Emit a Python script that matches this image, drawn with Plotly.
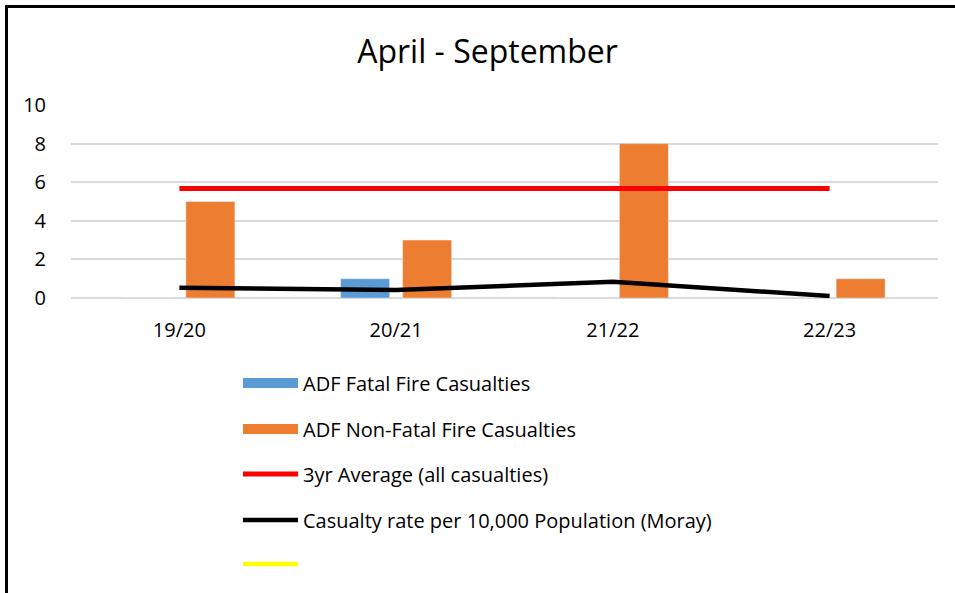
import plotly.graph_objects as go

categories = ["19/20", "20/21", "21/22", "22/23"]
fatal = [0, 1, 0, 0]
non_fatal = [5, 3, 8, 1]
avg_3yr = [5.67, 5.67, 5.67, 5.67]
rate_moray = [0.53, 0.42, 0.84, 0.105]
blank_series = [None, None, None, None]
y_ticks = [0, 2, 4, 6, 8, 10]

FONT = "Open Sans"
BLUE = "#5B9BD5"
ORANGE = "#ED7D31"
W, H = 955, 593

fig = go.Figure()
fig.add_trace(go.Bar(x=categories, y=fatal, name="ADF Fatal Fire Casualties",
                     marker=dict(color=BLUE), showlegend=False))
fig.add_trace(go.Bar(x=categories, y=non_fatal, name="ADF Non-Fatal Fire Casualties",
                     marker=dict(color=ORANGE), showlegend=False))
# legend keys for the bar series (rectangular swatches like the original)
fig.add_trace(go.Scatter(x=categories, y=blank_series, name="ADF Fatal Fire Casualties",
                         mode="lines", line=dict(color=BLUE, width=11), legend="legend"))
fig.add_trace(go.Scatter(x=categories, y=blank_series, name="ADF Non-Fatal Fire Casualties",
                         mode="lines", line=dict(color=ORANGE, width=11), legend="legend2"))
fig.add_trace(go.Scatter(x=categories, y=avg_3yr, name="3yr Average (all casualties)",
                         mode="lines", line=dict(color="#FF0000", width=5), legend="legend3"))
fig.add_trace(go.Scatter(x=categories, y=rate_moray, name="Casualty rate per 10,000 Population (Moray)",
                         mode="lines", line=dict(color="#000000", width=4.5), legend="legend4"))
fig.add_trace(go.Scatter(x=categories, y=blank_series, name=" ",
                         mode="lines", line=dict(color="#FFFF00", width=4.5), legend="legend5"))

PLOT_BOTTOM, PLOT_H, PLOT_L, PLOT_W = 299, 194, 71, 867


def legend_at(center_px):
    return dict(orientation="v", x=(238 - PLOT_L) / PLOT_W, xanchor="left",
                y=(PLOT_BOTTOM - center_px) / PLOT_H, yanchor="middle",
                font=dict(family=FONT, size=20), itemwidth=55,
                bgcolor="rgba(0,0,0,0)")


fig.update_layout(
    width=W, height=H,
    margin=dict(l=71, r=17, t=105, b=294),
    paper_bgcolor="white", plot_bgcolor="white",
    font=dict(family=FONT, size=20, color="#000000"),
    title=dict(text="April - September", x=487.5 / W, xanchor="center", y=1 - 52 / H, yanchor="middle",
               font=dict(family=FONT, size=32, color="#000000")),
    barmode="group", bargap=0.428, bargroupgap=0.21,
    showlegend=True,
    legend=legend_at(383),
    legend2=legend_at(429),
    legend3=legend_at(474),
    legend4=legend_at(520),
    legend5=legend_at(564),
    xaxis=dict(type="category", showgrid=False, showline=False, zeroline=False,
               ticks="outside", ticklen=14, tickcolor="rgba(0,0,0,0)",
               tickfont=dict(family=FONT, size=20)),
    yaxis=dict(range=[0, 10], tickvals=y_ticks, showgrid=True, gridcolor="#D9D9D9", gridwidth=1.5,
               zeroline=True, zerolinecolor="#D9D9D9", zerolinewidth=1.5, showline=False,
               ticks="outside", ticklen=20, tickcolor="rgba(0,0,0,0)",
               tickfont=dict(family=FONT, size=20)),
)

# chart border (top and left edges visible)
fig.add_shape(type="line", xref="paper", yref="paper",
              x0=(5 - 71) / 867, x1=(955 - 71) / 867, y0=(299 - 6) / 194, y1=(299 - 6) / 194,
              line=dict(color="#000000", width=3))
fig.add_shape(type="line", xref="paper", yref="paper",
              x0=(6.5 - 71) / 867, x1=(6.5 - 71) / 867, y0=(299 - 5) / 194, y1=(299 - 600) / 194,
              line=dict(color="#000000", width=3))

fig.write_html("out.html",
               config={"responsive": False, "displayModeBar": False},
               post_script="document.body.style.margin='0px';document.body.style.overflow='hidden';")
